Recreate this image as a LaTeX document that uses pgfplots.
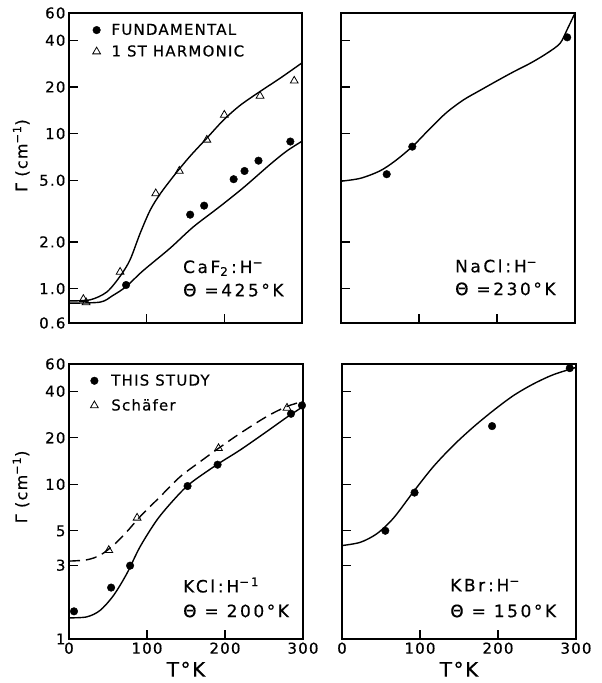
\documentclass[border=0pt]{standalone}
\usepackage{fontspec}
\setmainfont{DejaVu Sans}[LetterSpace=8, FakeBold=0.4]
\usepackage{pgfplots}
\pgfplotsset{compat=1.18}
\pgfplotsset{
  every axis/.append style={
    scale only axis,
    axis line style={line width=1.1pt},
    tick style={line width=1.1pt, black},
    tick align=inside, major tick length=9pt,
    xminorticks=false, yminorticks=false,
    tick label style={font=\fontsize{15}{18}\selectfont},
    legend cell align=left,
  },
  every axis legend/.append style={draw=none, fill=none, anchor=north west, font=\fontsize{15}{18}\selectfont, inner sep=0pt},
  every axis y label/.append style={font=\fontsize{16}{19}\selectfont},
  every axis x label/.append style={font=\fontsize{20}{24}\selectfont},
}
\tikzset{ganno/.style={anchor=west, font=\fontsize{17}{20}\selectfont\addfontfeatures{LetterSpace=15}, inner sep=0pt}}
\begin{document}
\begin{tikzpicture}
\useasboundingbox (0,0) rectangle (602pt,683pt);
% ---------- CaF2 ----------
\begin{axis}[at={(69pt,360pt)}, anchor=south west, width=233pt, height=310pt,
  ymode=log, xmin=0, xmax=300, ymin=0.6, ymax=60,
  xtick pos=bottom, ytick pos=left,
  ytick={0.6,1,2,5,10,20,40,60}, yticklabels={0.6,1.0,2.0,5.0,10,20,40,60},
  xtick={100,200}, xticklabels={},
  ylabel={Γ (cm\textsuperscript{−1})},
  ylabel style={at={(axis description cs:-0.205,0.54)}, anchor=center},
  legend style={at={(axis description cs:0.101,0.972)}, anchor=north west, row sep=5pt},
  /pgf/number format/assume math mode=true]
\addlegendimage{only marks, mark=*, mark size=3.8pt, black}
\addlegendentry{\hspace*{9pt}FUNDAMENTAL}
\addlegendimage{only marks, mark=triangle, mark size=4.5pt, black, mark options={line width=0.8pt, fill=white}}
\addlegendentry{\hspace*{9pt}1 ST HARMONIC}
\addplot[no marks, smooth, line width=1.4pt, black] coordinates {(0,0.834) (27,0.846) (48.6,0.95) (65.7,1.20) (78.5,1.53) (91.4,2.26) (104.3,3.19) (117.2,4.07) (136.5,5.46) (155.8,7.14) (177.3,9.33) (198.7,12.2) (220.2,15.2) (246,18.7) (272,22.8) (300,28.6)};
\addplot[no marks, smooth, line width=1.4pt, black] coordinates {(0,0.806) (40,0.818) (56,0.9) (73.5,1.03) (95,1.3) (130,1.82) (160,2.5) (194.4,3.39) (225,4.5) (258.8,6.32) (280,7.7) (300,8.93)};
\addplot[only marks, mark=*, mark size=3.8pt, black] coordinates {(73.5,1.055) (156,3.00) (174,3.43) (212,5.08) (226,5.74) (244,6.69) (285,8.89)};
\addplot[only marks, mark=triangle, mark size=4.5pt, black, mark options={line width=0.8pt, fill=white}] coordinates {(18.5,0.855) (22,0.814) (65.8,1.28) (111.7,4.11) (142,5.74) (177.5,9.11) (200,13.2) (246,17.5) (290,21.9)};
\node[ganno] at (rel axis cs:0.489,0.177) {CaF\textsubscript{2}\,:\,H\textsuperscript{−}};
\node[ganno] at (rel axis cs:0.489,0.106) {Θ =425°K};
\end{axis}
% ---------- NaCl ----------
\begin{axis}[at={(341pt,360pt)}, anchor=south west, width=234pt, height=310pt,
  ymode=log, xmin=0, xmax=300, ymin=0.6, ymax=60,
  xtick pos=bottom, ytick pos=left,
  ytick={1,2,5,10,20,40}, yticklabels={},
  xtick={100,200}, xticklabels={}]
\addplot[no marks, smooth, line width=1.4pt, black] coordinates {(0,4.93) (25,5.15) (50,5.75) (70,6.7) (92.7,8.36) (115,10.9) (135.5,13.7) (157,16.5) (178.2,19.0) (200,21.9) (220.9,25.0) (243,28.5) (263.7,32.9) (280.8,38.2) (290,47) (300,60)};
\addplot[only marks, mark=*, mark size=3.8pt, black] coordinates {(58.6,5.47) (91.4,8.24) (290,41.8)};
\node[ganno] at (rel axis cs:0.487,0.184) {NaCl\,:\,H\textsuperscript{−}};
\node[ganno] at (rel axis cs:0.487,0.11) {Θ =230°K};
\end{axis}
% ---------- KCl ----------
\begin{axis}[at={(69pt,44pt)}, anchor=south west, width=234pt, height=275pt,
  ymode=log, xmin=0, xmax=300, ymin=1, ymax=60,
  xtick pos=bottom, ytick pos=left,
  ytick={1,3,5,10,20,40,60}, yticklabels={1,3,5,10,20,40,60},
  xtick={0,100,200,300}, xticklabels={0,100,200,300},
  ylabel={Γ (cm\textsuperscript{−1})}, xlabel={T°K},
  ylabel style={at={(axis description cs:-0.205,0.553)}, anchor=center},
  xlabel style={at={(axis description cs:0.5,-0.07)}, anchor=north},
  legend style={at={(axis description cs:0.091,0.970)}, anchor=north west, row sep=8pt},
  /pgf/number format/assume math mode=true]
\addlegendimage{only marks, mark=*, mark size=3.8pt, black}
\addlegendentry{\hspace*{11pt}THIS STUDY}
\addlegendimage{only marks, mark=triangle, mark size=4.5pt, black, mark options={line width=0.8pt, fill=white}}
\addlegendentry{\hspace*{11pt}Schäfer}
\addplot[no marks, smooth, line width=1.4pt, black] coordinates {(0,1.37) (22.7,1.39) (39.8,1.53) (57,1.91) (74,2.64) (91,3.94) (112.6,5.87) (134,7.91) (155,10.1) (189.6,13.4) (219.6,16.7) (253.8,22) (279.5,27.2) (300,31.8)};
\addplot[no marks, smooth, line width=1.4pt, black, dash pattern=on 11pt off 6pt] coordinates {(0,3.19) (22.7,3.25) (39.8,3.48) (57,4.04) (74,4.93) (91,6.17) (116.8,8.32) (142.5,11.2) (168,14.0) (191.7,17.1) (219.6,21.4) (253.8,27.5) (279.5,31.9) (300,34.4)};
\addplot[only marks, mark=*, mark size=3.8pt, black] coordinates {(6.4,1.51) (54,2.15) (78.3,2.98) (152,9.75) (190.5,13.4) (284.6,28.6) (298.7,32.4)};
\addplot[only marks, mark=triangle, mark size=4.5pt, black, mark options={line width=0.8pt, fill=white}] coordinates {(51,3.75) (87.3,6.07) (191.7,17.1) (279.5,31.2)};
\node[ganno] at (rel axis cs:0.487,0.196) {KCl\,:\,H\textsuperscript{−1}};
\node[ganno] at (rel axis cs:0.487,0.102) {Θ = 200°K};
\end{axis}
% ---------- KBr ----------
\begin{axis}[at={(342pt,44pt)}, anchor=south west, width=234pt, height=275pt,
  ymode=log, xmin=0, xmax=300, ymin=1, ymax=60,
  xtick pos=bottom, ytick pos=left,
  ytick={3,5,10,20,40}, yticklabels={},
  xtick={0,100,200,300}, xticklabels={0,100,200,300},
  xlabel={T°K},
  xlabel style={at={(axis description cs:0.5,-0.07)}, anchor=north},
  /pgf/number format/assume math mode=true]
\addplot[no marks, smooth, line width=1.4pt, black] coordinates {(0,4.02) (23.5,4.22) (44.8,4.80) (66,6.05) (91.7,8.97) (117,13.0) (143,17.9) (168.5,23.5) (194,30.0) (219.8,37.5) (245,44.5) (271,51.2) (300,57)};
\addplot[only marks, mark=*, mark size=3.8pt, black] coordinates {(55.5,5.01) (93,8.84) (192.4,23.8) (292,56.4)};
\node[ganno] at (rel axis cs:0.462,0.196) {KBr\,:\,H\textsuperscript{−}};
\node[ganno] at (rel axis cs:0.462,0.102) {Θ = 150°K};
\end{axis}
\end{tikzpicture}
\end{document}
